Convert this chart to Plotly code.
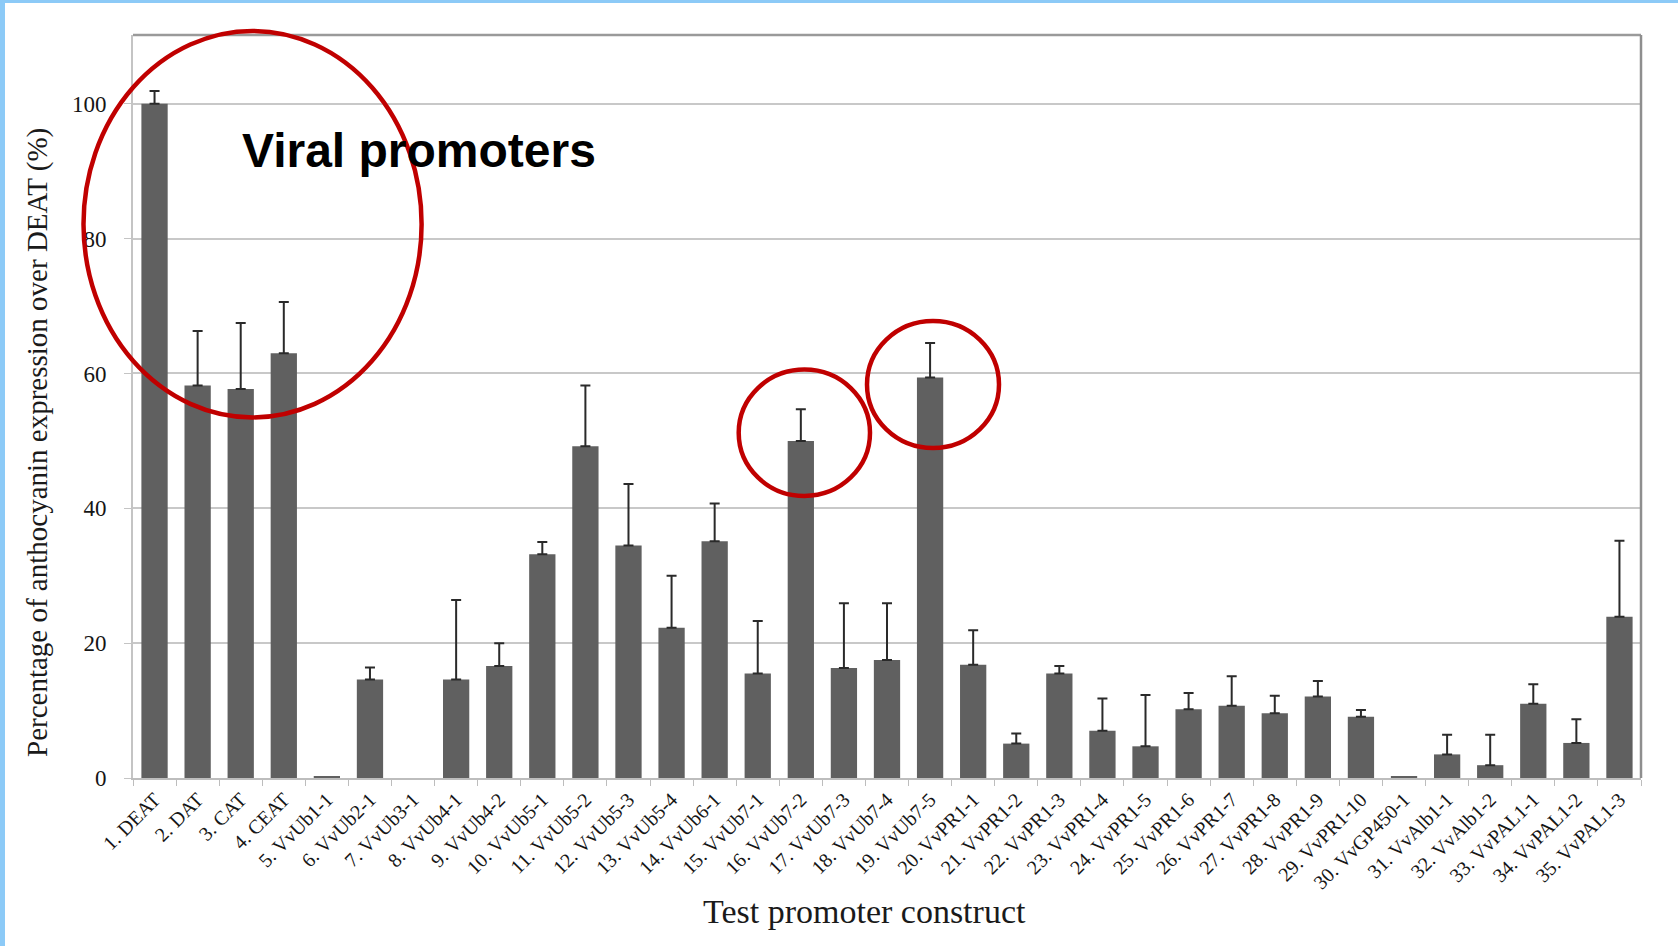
import plotly.graph_objects as go

categories = ["1. DEAT", "2. DAT", "3. CAT", "4. CEAT", "5. VvUb1-1", "6. VvUb2-1",
              "7. VvUb3-1", "8. VvUb4-1", "9. VvUb4-2", "10. VvUb5-1", "11. VvUb5-2",
              "12. VvUb5-3", "13. VvUb5-4", "14. VvUb6-1", "15. VvUb7-1", "16. VvUb7-2",
              "17. VvUb7-3", "18. VvUb7-4", "19. VvUb7-5", "20. VvPR1-1", "21. VvPR1-2",
              "22. VvPR1-3", "23. VvPR1-4", "24. VvPR1-5", "25. VvPR1-6", "26. VvPR1-7",
              "27. VvPR1-8", "28. VvPR1-9", "29. VvPR1-10", "30. VvGP450-1", "31. VvAlb1-1",
              "32. VvAlb1-2", "33. VvPAL1-1", "34. VvPAL1-2", "35. VvPAL1-3"]

values = [100, 58.2, 57.7, 63.0, 0.2, 14.6, None, 14.6, 16.6, 33.2, 49.2, 34.5, 22.3, 35.1,
          15.5, 50.0, 16.3, 17.5, 59.4, 16.8, 5.1, 15.5, 7.0, 4.7, 10.2, 10.7, 9.6, 12.1,
          9.1, 0.15, 3.5, 1.9, 11.0, 5.2, 23.9]

errors = [1.9, 8.1, 9.8, 7.6, None, 1.8, None, 11.8, 3.4, 1.8, 9.0, 9.1, 7.7, 5.6,
          7.8, 4.7, 9.6, 8.4, 5.1, 5.1, 1.5, 1.1, 4.8, 7.6, 2.4, 4.4, 2.6, 2.3,
          1.0, None, 2.9, 4.5, 2.9, 3.5, 11.3]

y_ticks = [0, 20, 40, 60, 80, 100]

W, H = 1678, 946
ML, MR, MT, MB = 133, 37, 35, 168
PW, PH = W - ML - MR, H - MT - MB


def px_x(px):
    return (px - ML) / PW


def px_y(py):
    return (H - MB - py) / PH


fig = go.Figure()
fig.add_trace(go.Bar(
    x=categories, y=values,
    marker=dict(color="#606060", line=dict(width=0)),
))

# error bars only where a value exists
err_x = [c for c, e in zip(categories, errors) if e is not None]
err_y = [v for v, e in zip(values, errors) if e is not None]
err_v = [e for e in errors if e is not None]
fig.add_trace(go.Scatter(
    x=err_x, y=err_y, mode="markers",
    marker=dict(size=0.1, color="rgba(0,0,0,0)"),
    error_y=dict(type="data", array=err_v, arrayminus=[0] * len(err_v),
                 symmetric=False, color="#2a2a2a", thickness=2, width=5),
    hoverinfo="skip",
))

serif = "Liberation Serif, Times New Roman, serif"

fig.update_layout(
    width=W, height=H,
    margin=dict(l=ML, r=MR, t=MT, b=MB),
    paper_bgcolor="white", plot_bgcolor="white",
    showlegend=False,
    bargap=0.39,
    xaxis=dict(
        type="category", range=[-0.5, len(categories) - 0.5],
        tickangle=-45, tickfont=dict(family=serif, size=20, color="#151515"),
        showline=True, linecolor="#bdbdbd", linewidth=2,
        ticks="outside", tickson="boundaries", ticklen=6, tickcolor="#bdbdbd",
        showgrid=False, zeroline=False,
    ),
    yaxis=dict(
        range=[0, 110.2], tickvals=y_ticks,
        tickfont=dict(family=serif, size=23, color="#151515"),
        showline=True, linecolor="#c4c4c4", linewidth=2,
        ticks="outside", ticklen=7, tickcolor="#c4c4c4", ticklabelstandoff=13,
        showgrid=True, gridcolor="#c8c8c8", gridwidth=1.5, zeroline=False,
    ),
)

shapes = [
    # frame top and right
    dict(type="line", xref="paper", yref="paper", x0=0, x1=1, y0=1, y1=1,
         line=dict(color="#9a9a9a", width=2.5)),
    dict(type="line", xref="paper", yref="paper", x0=1, x1=1, y0=0, y1=1,
         line=dict(color="#8e8e8e", width=2.5)),
    # light blue page border
    dict(type="rect", xref="paper", yref="paper", x0=px_x(0), x1=px_x(W), y0=px_y(3), y1=px_y(0),
         fillcolor="#8ccaf7", line=dict(width=0), layer="above"),
    dict(type="rect", xref="paper", yref="paper", x0=px_x(0), x1=px_x(5), y0=px_y(H), y1=px_y(0),
         fillcolor="#8ccaf7", line=dict(width=0), layer="above"),
    # red highlight ellipses
    dict(type="circle", xref="paper", yref="paper", x0=px_x(83.5), x1=px_x(421.6),
         y0=px_y(417.4), y1=px_y(31), line=dict(color="#c00000", width=4.5)),
    dict(type="circle", xref="paper", yref="paper", x0=px_x(738.7), x1=px_x(870),
         y0=px_y(496), y1=px_y(369.6), line=dict(color="#c00000", width=4.5)),
    dict(type="circle", xref="paper", yref="paper", x0=px_x(867), x1=px_x(999),
         y0=px_y(448), y1=px_y(321), line=dict(color="#c00000", width=4.5)),
]
fig.update_layout(shapes=shapes)

fig.add_annotation(text="Viral promoters", xref="paper", yref="paper",
                   x=px_x(419), y=px_y(151), xanchor="center", yanchor="middle",
                   showarrow=False,
                   font=dict(family="Liberation Sans, Arial, sans-serif", size=48, color="black",
                             weight="bold"))
fig.add_annotation(text="Percentage of anthocyanin expression over DEAT (%)",
                   xref="paper", yref="paper", x=px_x(37), y=px_y(443),
                   xanchor="center", yanchor="middle", textangle=-90, showarrow=False,
                   font=dict(family=serif, size=29, color="#1a1a1a"))
fig.add_annotation(text="Test promoter construct", xref="paper", yref="paper",
                   x=px_x(864), y=px_y(911), xanchor="center", yanchor="middle",
                   showarrow=False, font=dict(family=serif, size=34, color="#1a1a1a"))

fig.write_html("out.html")
